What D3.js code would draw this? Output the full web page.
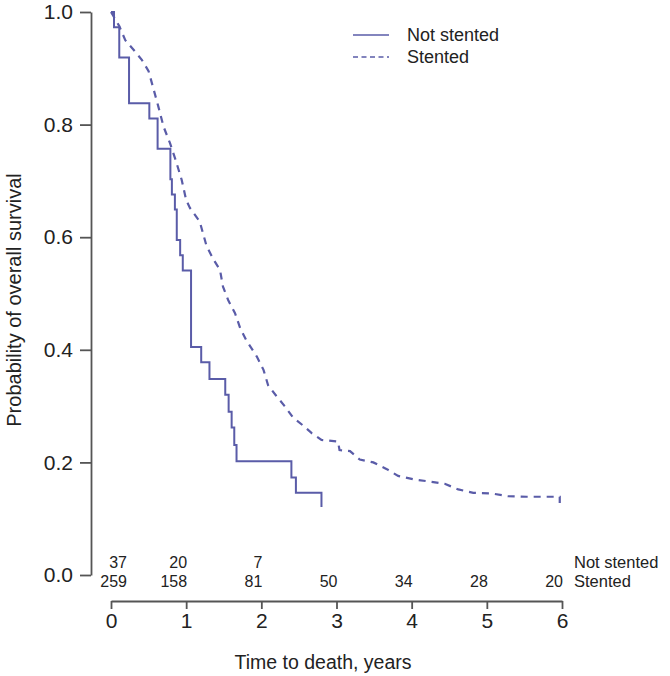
<!DOCTYPE html>
<html>
<head>
<meta charset="utf-8">
<script src="https://cdn.jsdelivr.net/npm/d3@7"></script>
<style>
  html, body { margin: 0; padding: 0; background: #fff; }
  svg { display: block; }
  text { font-family: "Liberation Sans", Arial, Helvetica, sans-serif; fill: #222; }
</style>
</head>
<body>
<svg id="chart" width="670" height="676"></svg>
<script>
// ---- Data ----
const seriesNames = ["Not stented", "Stented"];

const notStentedTime = [0, 0.04, 0.11, 0.24, 0.51, 0.62, 0.79, 0.81, 0.85, 0.875, 0.92, 0.955, 1.065, 1.20, 1.31, 1.52, 1.565, 1.605, 1.64, 1.67, 2.40, 2.46, 2.80];
const notStentedSurv = [1.0, 0.973, 0.919, 0.838, 0.811, 0.757, 0.703, 0.676, 0.649, 0.595, 0.568, 0.541, 0.405, 0.378, 0.348, 0.320, 0.290, 0.262, 0.231, 0.202, 0.173, 0.146, 0.121];

const stentedTime = [0, 0.11, 0.19, 0.30, 0.41, 0.50, 0.56, 0.63, 0.70, 0.785, 0.86, 0.94, 1.00, 1.05, 1.18, 1.27, 1.36, 1.45, 1.49, 1.56, 1.65, 1.72, 1.80, 1.94, 2.03, 2.09, 2.20, 2.31, 2.42, 2.56, 2.67, 2.80, 3.02, 3.04, 3.18, 3.31, 3.49, 3.67, 3.82, 4.02, 4.24, 4.44, 4.62, 4.82, 5.06, 5.28, 5.53, 5.97, 5.97];
const stentedSurv = [1.0, 0.975, 0.95, 0.933, 0.915, 0.895, 0.866, 0.832, 0.796, 0.767, 0.737, 0.702, 0.666, 0.652, 0.628, 0.585, 0.561, 0.542, 0.512, 0.488, 0.465, 0.438, 0.417, 0.388, 0.364, 0.337, 0.318, 0.300, 0.280, 0.265, 0.252, 0.240, 0.237, 0.222, 0.220, 0.205, 0.200, 0.188, 0.176, 0.170, 0.166, 0.162, 0.152, 0.146, 0.145, 0.140, 0.139, 0.139, 0.128];

const xTicks = [0, 1, 2, 3, 4, 5, 6];
const yTicks = [0.0, 0.2, 0.4, 0.6, 0.8, 1.0];
const riskTimes = [0, 1, 2, 3, 4, 5, 6];
const notStentedRisk = [37, 20, 7];
const stentedRisk = [259, 158, 81, 50, 34, 28, 20];

// ---- Layout ----
const svg = d3.select("#chart");
const lineColor = "#5a5ca8";
const axisColor = "#555";

const x = d3.scaleLinear().domain([0, 6]).range([111, 562]);
const y = d3.scaleLinear().domain([0, 1]).range([575, 12]);

// Y axis
const yAxis = svg.append("g")
  .attr("transform", "translate(91,0)")
  .call(d3.axisLeft(y).tickValues(yTicks).tickFormat(d3.format(".1f")).tickSize(11).tickSizeOuter(0).tickPadding(7));
yAxis.selectAll("path, line").attr("stroke", axisColor).attr("stroke-width", 1.8);
yAxis.selectAll("text").style("font-size", "21px").attr("fill", "#222");

// X axis
const xAxis = svg.append("g")
  .attr("transform", "translate(0,601)")
  .call(d3.axisBottom(x).tickValues(xTicks).tickFormat(d3.format("d")).tickSize(8).tickSizeOuter(0).tickPadding(4));
xAxis.selectAll("path, line").attr("stroke", axisColor).attr("stroke-width", 1.8);
xAxis.selectAll("text").style("font-size", "21px").attr("fill", "#222");

// Axis titles
svg.append("text")
  .attr("x", 323).attr("y", 662)
  .attr("text-anchor", "middle").attr("dominant-baseline", "central")
  .style("font-size", "19.5px")
  .text("Time to death, years");

svg.append("text")
  .attr("transform", `translate(14,300) rotate(-90)`)
  .attr("text-anchor", "middle").attr("dominant-baseline", "central")
  .style("font-size", "20px")
  .text("Probability of overall survival");

// Curves
const nsData = notStentedTime.map((t, i) => [t, notStentedSurv[i]]);
const stData = stentedTime.map((t, i) => [t, stentedSurv[i]]);

svg.append("path")
  .datum(nsData)
  .attr("d", d3.line().x(d => x(d[0])).y(d => y(d[1])).curve(d3.curveStepAfter))
  .attr("fill", "none").attr("stroke", lineColor).attr("stroke-width", 2);

svg.append("path")
  .datum(stData)
  .attr("d", d3.line().x(d => x(d[0])).y(d => y(d[1])).curve(d3.curveLinear))
  .attr("fill", "none").attr("stroke", lineColor).attr("stroke-width", 2.2)
  .attr("stroke-dasharray", "7,6");

// Legend
const legend = svg.append("g");
[0, 1].forEach(i => {
  const ly = 35 + i * 22;
  legend.append("line")
    .attr("x1", 353).attr("x2", 389).attr("y1", ly).attr("y2", ly)
    .attr("stroke", lineColor).attr("stroke-width", 1.6)
    .attr("stroke-dasharray", i === 1 ? "5,3.5" : null);
  legend.append("text")
    .attr("x", 407).attr("y", ly)
    .attr("dominant-baseline", "central")
    .style("font-size", "18px")
    .text(seriesNames[i]);
});

// Numbers at risk
const riskRows = [
  { values: notStentedRisk, y: 562, name: seriesNames[0] },
  { values: stentedRisk, y: 581, name: seriesNames[1] }
];
riskRows.forEach(row => {
  row.values.forEach((v, i) => {
    const t = riskTimes[i];
    svg.append("text")
      .attr("x", x(t) + (i === 0 ? 16 : 1))
      .attr("y", row.y)
      .attr("text-anchor", "end")
      .attr("dominant-baseline", "central")
      .style("font-size", "16px")
      .text(v);
  });
  svg.append("text")
    .attr("x", 574).attr("y", row.y)
    .attr("dominant-baseline", "central")
    .style("font-size", "16.5px")
    .text(row.name);
});
</script>
</body>
</html>
